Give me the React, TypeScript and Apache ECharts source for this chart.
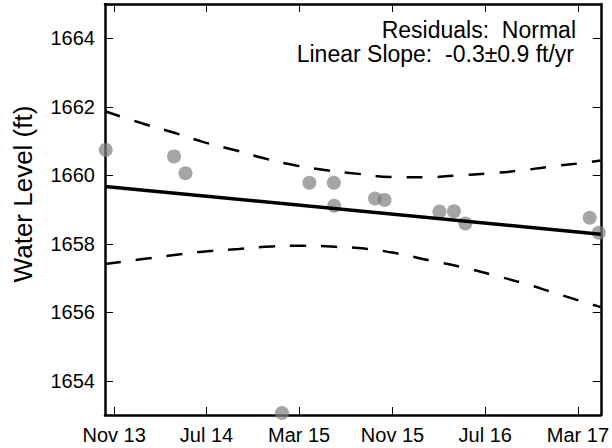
import React, { useEffect, useRef } from "react";
import * as echarts from "echarts";

const obsDates = [
  "2013-10-10", "2014-04-07", "2014-05-07", "2015-01-15", "2015-03-28",
  "2015-05-31", "2015-06-01", "2015-09-16", "2015-10-11", "2016-03-03",
  "2016-04-10", "2016-05-10", "2017-04-01", "2017-04-25",
];
const obsLevels = [
  1660.74, 1660.55, 1660.06, 1653.06, 1659.78,
  1659.78, 1659.11, 1659.32, 1659.28, 1658.94,
  1658.95, 1658.59, 1658.76, 1658.32,
];

const trendDates = ["2013-10-08", "2017-04-30"];
const trendLevels = [1659.67, 1658.28];

const upperDates = [
  "2013-10-08", "2014-01-15", "2014-04-08", "2014-06-26", "2014-09-15",
  "2014-12-04", "2015-02-24", "2015-05-17", "2015-08-04", "2015-10-30",
  "2016-01-21", "2016-04-13", "2016-07-04", "2016-09-25", "2016-12-17",
  "2017-03-14", "2017-04-30",
];
const upperLevels = [
  1661.87, 1661.51, 1661.24, 1660.96, 1660.73,
  1660.48, 1660.28, 1660.14, 1660.04, 1659.95,
  1659.94, 1659.99, 1660.05, 1660.13, 1660.25,
  1660.36, 1660.43,
];

const lowerDates = [
  "2013-10-08", "2014-01-20", "2014-04-13", "2014-07-04", "2014-09-25",
  "2014-12-21", "2015-03-14", "2015-06-04", "2015-08-26", "2015-11-16",
  "2016-02-07", "2016-04-30", "2016-07-17", "2016-10-08", "2016-12-26",
  "2017-03-19", "2017-04-30",
];
const lowerLevels = [
  1657.41, 1657.56, 1657.68, 1657.78, 1657.85,
  1657.92, 1657.94, 1657.91, 1657.85, 1657.71,
  1657.51, 1657.32, 1657.10, 1656.85, 1656.58,
  1656.29, 1656.15,
];

const xTickDates = ["2013-11-01", "2014-07-01", "2015-03-01", "2015-11-01", "2016-07-01", "2017-03-01"];
const xTickLabels = ["Nov 13", "Jul 14", "Mar 15", "Nov 15", "Jul 16", "Mar 17"];
const yTicks = [1654, 1656, 1658, 1660, 1662, 1664];

const xMinDate = "2013-10-08";
const xMaxDate = "2017-04-30";
const yMin = 1653;
const yMax = 1665;

const yAxisTitle = "Water Level (ft)";
const noteLines = ["Residuals:  Normal", "Linear Slope:  -0.3±0.9 ft/yr"];

const ts = (d: string) => Date.parse(d + "T00:00:00Z");
const zip = (ds: string[], vs: number[]) => ds.map((d, i) => [ts(d), vs[i]]);

const FONT = "Liberation Sans";

export default function App() {
  const ref = useRef<HTMLDivElement>(null);
  useEffect(() => {
    if (!ref.current) return;
    const chart = echarts.init(ref.current, null, { renderer: "svg" });
    const xTicks = xTickDates.map(ts);
    const labelMap: Record<number, string> = {};
    xTicks.forEach((t, i) => (labelMap[t] = xTickLabels[i]));
    const axisLine = { show: true, lineStyle: { color: "#000", width: 2.5 } };
    const xCommon = {
      type: "value" as const,
      min: ts(xMinDate),
      max: ts(xMaxDate),
      axisLine,
      splitLine: { show: false },
      axisTick: {
        show: true,
        inside: true,
        length: 8,
        lineStyle: { color: "#000", width: 1 },
        customValues: xTicks,
      },
    };
    const yCommon = {
      type: "value" as const,
      min: yMin,
      max: yMax,
      axisLine,
      splitLine: { show: false },
      axisTick: {
        show: true,
        inside: true,
        length: 8,
        lineStyle: { color: "#000", width: 1 },
        customValues: yTicks,
      },
    };
    const noteStyle = {
      fontFamily: FONT,
      fontSize: 23,
      fill: "#000",
      textAlign: "right",
      textVerticalAlign: "middle",
    };
    chart.setOption({
      animation: false,
      backgroundColor: "#fff",
      grid: { left: 105, right: 10, top: 4, bottom: 33 },
      xAxis: [
        {
          ...xCommon,
          position: "bottom",
          axisLabel: {
            show: true,
            customValues: xTicks,
            formatter: (v: number) => labelMap[v] ?? "",
            color: "#000",
            fontFamily: FONT,
            fontSize: 20,
            margin: 10,
          },
        },
        { ...xCommon, position: "top", axisLabel: { show: false } },
      ],
      yAxis: [
        {
          ...yCommon,
          position: "left",
          axisLabel: {
            show: true,
            customValues: yTicks,
            formatter: (v: number) => String(v),
            color: "#000",
            fontFamily: FONT,
            fontSize: 20,
            margin: 10,
          },
        },
        { ...yCommon, position: "right", axisLabel: { show: false } },
      ],
      graphic: [
        {
          type: "text",
          x: 23,
          y: 194,
          rotation: Math.PI / 2,
          style: {
            text: yAxisTitle,
            fontFamily: FONT,
            fontSize: 26,
            fill: "#000",
            textAlign: "center",
            textVerticalAlign: "middle",
          },
        },
        { type: "text", x: 576, y: 30, style: { ...noteStyle, text: noteLines[0] } },
        { type: "text", x: 574, y: 54, style: { ...noteStyle, text: noteLines[1] } },
      ],
      series: [
        {
          type: "scatter",
          data: zip(obsDates, obsLevels),
          symbolSize: 14,
          itemStyle: { color: "#7f7f7f", opacity: 0.7 },
          z: 1,
        },
        {
          type: "line",
          data: zip(upperDates, upperLevels),
          smooth: true,
          showSymbol: false,
          lineStyle: { color: "#000", width: 2.5, type: [16, 15] },
          z: 2,
        },
        {
          type: "line",
          data: zip(lowerDates, lowerLevels),
          smooth: true,
          showSymbol: false,
          lineStyle: { color: "#000", width: 2.5, type: [16, 15] },
          z: 2,
        },
        {
          type: "line",
          data: zip(trendDates, trendLevels),
          showSymbol: false,
          lineStyle: { color: "#000", width: 3.5 },
          z: 3,
        },
      ],
    });
    return () => chart.dispose();
  }, []);
  return <div ref={ref} style={{ width: 612, height: 448, position: "absolute", left: 0, top: 0 }} />;
}
